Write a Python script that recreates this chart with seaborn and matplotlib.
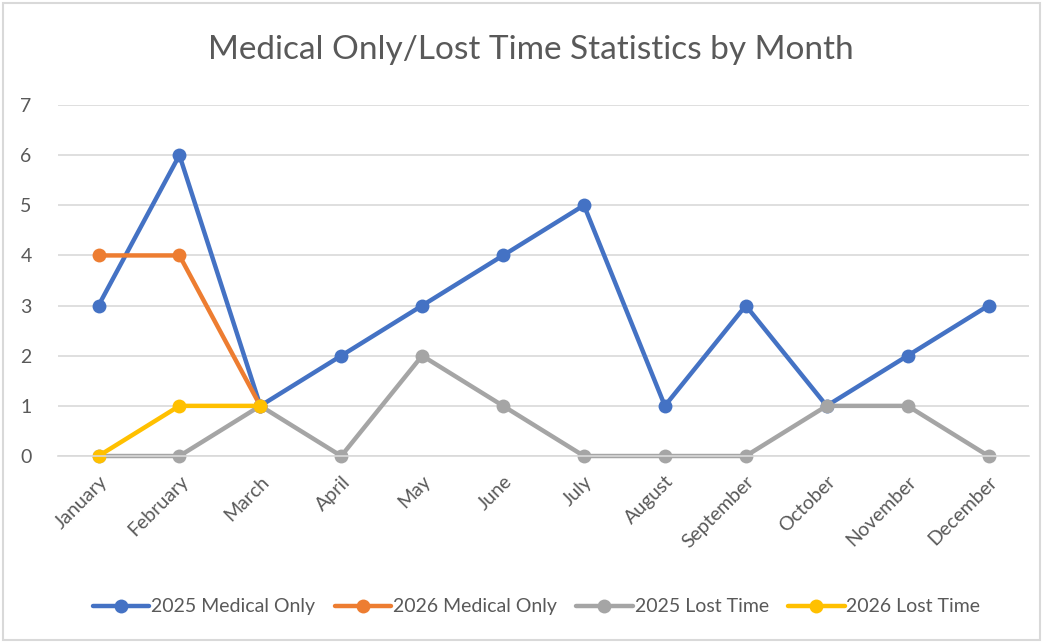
import matplotlib
matplotlib.use("Agg")
import matplotlib.pyplot as plt
import seaborn as sns
import pandas as pd

months = ["January", "February", "March", "April", "May", "June", "July",
          "August", "September", "October", "November", "December"]
med_2025 = [3, 6, 1, 2, 3, 4, 5, 1, 3, 1, 2, 3]
med_2026 = [4, 4, 1]
lost_2025 = [0, 0, 1, 0, 2, 1, 0, 0, 0, 1, 1, 0]
lost_2026 = [0, 1, 1]

series = [
    ("2025 Medical Only", med_2025, "#4472C4"),
    ("2026 Medical Only", med_2026, "#ED7D31"),
    ("2025 Lost Time", lost_2025, "#A5A5A5"),
    ("2026 Lost Time", lost_2026, "#FFC000"),
]

sns.set_style("white")
plt.rcParams['font.family'] = ['Lato', 'DejaVu Sans']
txt = "#595959"

fig = plt.figure(figsize=(10.44, 6.43), dpi=100)
ax = fig.add_axes([0.0556, 0.2908, 0.93, 0.5459])

for name, vals, col in series:
    df = pd.DataFrame({"Month": list(range(len(vals))), "Count": vals})
    sns.lineplot(data=df, x="Month", y="Count", ax=ax, color=col, linewidth=3.2,
                 marker="o", markersize=10, markeredgewidth=0, label=name, sort=False,
                 clip_on=False)

ax.set_xlim(-0.5, 11.5)
ax.set_ylim(0, 7)
ax.set_yticks(range(0, 8))
ax.set_xticks(range(12))
ax.set_xticklabels(months, rotation=45, ha="right", rotation_mode="anchor")
ax.tick_params(axis="both", colors=txt, labelsize=14, length=0)
ax.tick_params(axis="y", pad=19)
ax.tick_params(axis="x", pad=12)
ax.grid(axis="y", color="#D9D9D9", linewidth=1.2)
ax.set_axisbelow(True)
for s in ["top", "right", "left"]:
    ax.spines[s].set_visible(False)
ax.spines["bottom"].set_color("#D9D9D9")
ax.spines["bottom"].set_linewidth(1.2)
ax.set_xlabel("")
ax.set_ylabel("")

fig.text(0.508, 0.922, "Medical Only/Lost Time Statistics by Month", ha="center",
         va="center", fontsize=24, color=txt)

ax.legend_.remove()
h, l = ax.get_legend_handles_labels()
fig.legend(h, l, loc="center", bbox_to_anchor=(0.514, 0.056), ncol=4, frameon=False,
           fontsize=14, labelcolor=txt, handlelength=2.9, handletextpad=0.1,
           columnspacing=1.0)

fig.patches.append(plt.Rectangle((0.003, 0.004), 0.993, 0.991, transform=fig.transFigure,
                                 fill=False, edgecolor="#D9D9D9", linewidth=1.5))

fig.savefig("out.png", dpi=100)
